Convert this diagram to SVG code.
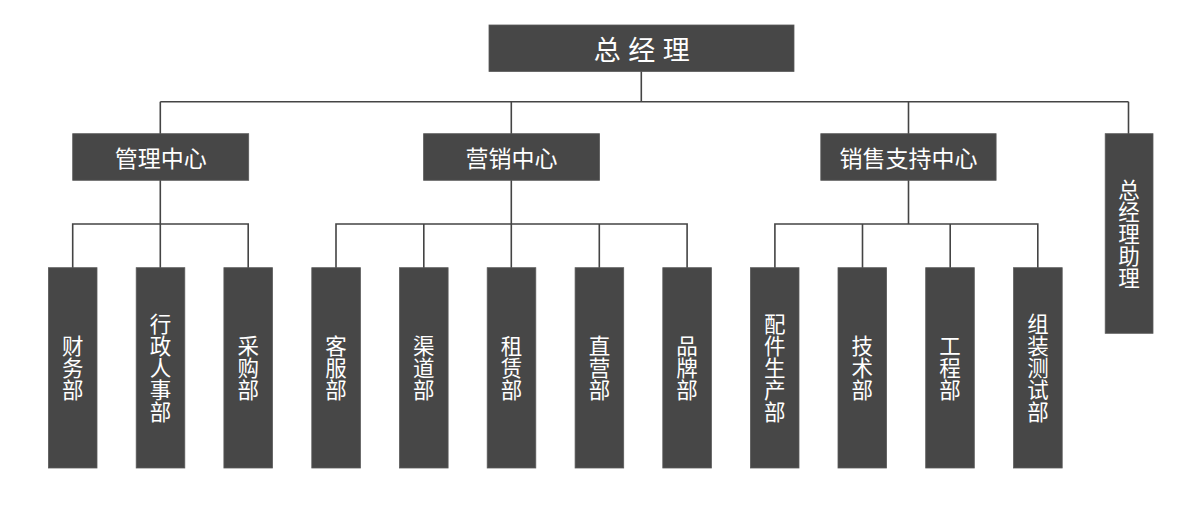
<svg xmlns="http://www.w3.org/2000/svg" width="1200" height="505" viewBox="0 0 1200 505">
<style>
.box{fill:#474747;stroke:#5a5a5a;stroke-width:0.8}
.t{fill:#ffffff;font-family:"Noto Sans CJK SC","Noto Sans",sans-serif;text-anchor:middle}
.h{dominant-baseline:central}
.top{font-size:27px;letter-spacing:7.5px}
.mid{font-size:23px}
.v{font-size:21.5px;writing-mode:vertical-rl;text-orientation:upright;letter-spacing:0.5px}
.ln{stroke:#444;stroke-width:1.6;fill:none}
</style>
<rect width="1200" height="505" fill="#ffffff"/>
<g id="connectors">
<path class="ln" d="M641.3 71 V101.7 M160.3 101.7 H1128.5 M160.3 101.7 V134 M511.3 101.7 V134 M908.5 101.7 V134 M1128.5 101.7 V134"/>
<path class="ln" d="M160.3 180 V224 M72.7 268 V224 H248.2 V268 M160.3 224 V268"/>
<path class="ln" d="M511.3 180 V224 M336 268 V224 H687.1 V268 M423.8 224 V268 M511.3 224 V268 M599.3 224 V268"/>
<path class="ln" d="M908.5 180 V224 M774.9 268 V224 H1037.8 V268 M862.5 224 V268 M950.2 224 V268"/>
</g>
<g id="n-zjl"><rect class="box" x="489" y="25" width="305" height="46.5"/><text class="t h top" x="645.5" y="48.5">总经理</text></g>
<g id="n-glzx"><rect class="box" x="72.7" y="133.7" width="176" height="46.6"/><text class="t h mid" x="160.7" y="157">管理中心</text></g>
<g id="n-yxzx"><rect class="box" x="423.6" y="133.7" width="176" height="46.6"/><text class="t h mid" x="511.6" y="157">营销中心</text></g>
<g id="n-xszczx"><rect class="box" x="820.8" y="133.7" width="175.3" height="46.6"/><text class="t h mid" x="908.5" y="157">销售支持中心</text></g>
<g id="n-zjlzl"><rect class="box" x="1105.2" y="133.7" width="47.8" height="199.6"/><text class="t v" x="1129" y="234">总经理助理</text></g>
<g id="n-cwb"><rect class="box" x="48.4" y="267.7" width="48.6" height="200.3"/><text class="t v" x="72.7" y="368">财务部</text></g>
<g id="n-xzrsb"><rect class="box" x="136.2" y="267.7" width="48.6" height="200.3"/><text class="t v" x="160.5" y="368">行政人事部</text></g>
<g id="n-cgb"><rect class="box" x="223.9" y="267.7" width="48.6" height="200.3"/><text class="t v" x="248.2" y="368">采购部</text></g>
<g id="n-kfb"><rect class="box" x="311.8" y="267.7" width="48.6" height="200.3"/><text class="t v" x="336.1" y="368">客服部</text></g>
<g id="n-qdb"><rect class="box" x="399.5" y="267.7" width="48.6" height="200.3"/><text class="t v" x="423.8" y="368">渠道部</text></g>
<g id="n-zlb"><rect class="box" x="487.2" y="267.7" width="48.6" height="200.3"/><text class="t v" x="511.5" y="368">租赁部</text></g>
<g id="n-zyb"><rect class="box" x="575.1" y="267.7" width="48.6" height="200.3"/><text class="t v" x="599.4" y="368">直营部</text></g>
<g id="n-ppb"><rect class="box" x="662.8" y="267.7" width="48.6" height="200.3"/><text class="t v" x="687.1" y="368">品牌部</text></g>
<g id="n-pjscb"><rect class="box" x="750.4" y="267.7" width="48.6" height="200.3"/><text class="t v" x="774.7" y="368">配件生产部</text></g>
<g id="n-jsb"><rect class="box" x="838" y="267.7" width="48.6" height="200.3"/><text class="t v" x="862.3" y="368">技术部</text></g>
<g id="n-gcb"><rect class="box" x="925.7" y="267.7" width="48.6" height="200.3"/><text class="t v" x="950" y="368">工程部</text></g>
<g id="n-zzcsb"><rect class="box" x="1013.6" y="267.7" width="48.6" height="200.3"/><text class="t v" x="1037.9" y="368">组装测试部</text></g>
</svg>
